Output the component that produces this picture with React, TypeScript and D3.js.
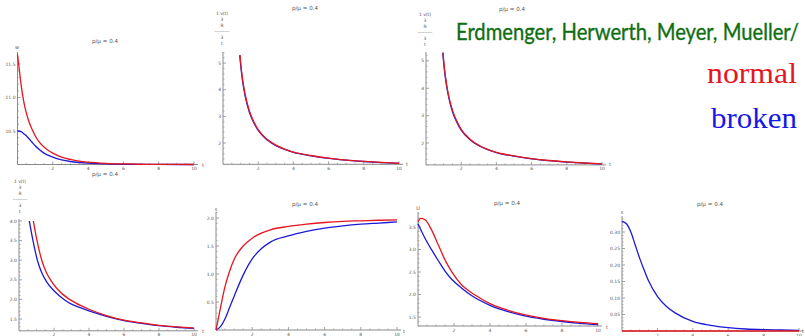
import * as d3 from 'd3'

type Pt = [number, number]

const title = 'p/μ = 0.4'
const xTicks = [2, 4, 6, 8, 10]

// w(t) - top left
const wNormal: Pt[] = [[0, 11.64], [0.1, 11.42], [0.2, 11.2], [0.3, 11.02], [0.4, 10.88], [0.5, 10.77], [0.6, 10.68], [0.75, 10.57], [0.87, 10.5], [1, 10.43], [1.25, 10.33], [1.5, 10.26], [1.75, 10.21], [2, 10.17], [2.5, 10.11], [3, 10.075], [3.5, 10.05], [4, 10.035], [5, 10.017], [6, 10.008], [7, 10.004], [8, 10.002], [10, 10]]
const wBroken: Pt[] = [[0, 10.5], [0.2, 10.49], [0.4, 10.45], [0.6, 10.4], [0.8, 10.34], [1, 10.28], [1.25, 10.22], [1.5, 10.17], [2, 10.11], [2.5, 10.07], [3, 10.045], [3.5, 10.03], [4, 10.02], [5, 10.009], [6, 10.004], [8, 10.001], [10, 10]]
const wTicks = [10.5, 11, 11.5]

// volume-type quantity - top middle / top right
const vNormal: Pt[] = [[0.97, 5.3], [1, 5.05], [1.1, 4.45], [1.25, 3.85], [1.5, 3.2], [1.75, 2.8], [2, 2.5], [2.5, 2.14], [3, 1.92], [3.5, 1.77], [4, 1.66], [5, 1.53], [6, 1.43], [7, 1.36], [8, 1.31], [9, 1.27], [10, 1.24]]
const vBroken: Pt[] = [[0.95, 5.3], [1, 4.95], [1.1, 4.38], [1.25, 3.79], [1.5, 3.15], [1.75, 2.76], [2, 2.47], [2.5, 2.12], [3, 1.9], [3.5, 1.76], [4, 1.65], [5, 1.52], [6, 1.42], [7, 1.355], [8, 1.305], [9, 1.265], [10, 1.235]]
const vTicks = [2, 3, 4, 5]

// bottom left
const aNormal: Pt[] = [[0.82, 4.0], [1.03, 3.5], [1.3, 3.0], [1.55, 2.7], [1.8, 2.5], [2.2, 2.26], [2.82, 2.02], [3.2, 1.92], [3.6, 1.83], [4, 1.75], [5, 1.59], [6, 1.47], [7, 1.4], [8, 1.34], [9, 1.3], [10, 1.27]]
const aBroken: Pt[] = [[0.59, 4.0], [0.8, 3.5], [1.05, 3.0], [1.3, 2.68], [1.58, 2.45], [2, 2.22], [2.63, 1.98], [3, 1.88], [3.5, 1.79], [4, 1.71], [5, 1.57], [6, 1.46], [7, 1.39], [8, 1.33], [9, 1.29], [10, 1.26]]
const aTicks = [1.5, 2.0, 2.5, 3.0, 3.5, 4.0]

// s(t)
const sNormal: Pt[] = [[0, 0], [0.25, 0.4], [0.5, 0.78], [0.75, 1.05], [1, 1.26], [1.5, 1.5], [2, 1.64], [2.5, 1.73], [3, 1.79], [4, 1.85], [5, 1.89], [6, 1.92], [7, 1.94], [8, 1.95], [9, 1.96], [10, 1.965]]
const sBroken: Pt[] = [[0, 0], [0.25, 0.06], [0.5, 0.2], [0.75, 0.4], [1, 0.6], [1.5, 0.98], [2, 1.27], [2.5, 1.45], [3, 1.57], [4, 1.68], [5, 1.76], [6, 1.82], [7, 1.86], [8, 1.89], [9, 1.91], [10, 1.93]]
const sTicks = [0.5, 1.0, 1.5, 2.0]

// U(t)
const uNormal: Pt[] = [[0, 3.62], [0.15, 3.69], [0.39, 3.66], [0.76, 3.43], [1.13, 3.1], [1.5, 2.77], [1.87, 2.51], [2.43, 2.21], [3.17, 1.99], [4.09, 1.78], [5, 1.65], [5.85, 1.56], [7, 1.47], [8, 1.42], [9, 1.38], [10, 1.35]]
const uBroken: Pt[] = [[0, 3.57], [0.2, 3.4], [0.39, 3.25], [0.76, 2.99], [1.13, 2.75], [1.5, 2.52], [1.87, 2.34], [2.43, 2.14], [2.89, 2.0], [4, 1.76], [5, 1.62], [5.85, 1.53], [7, 1.45], [8, 1.4], [9, 1.36], [10, 1.33]]
const uTicks = [1.5, 2.0, 2.5, 3.0, 3.5]

// epsilon(t)
const eNormal: Pt[] = [[0, 0], [2, 0], [4, 0], [6, 0], [8, 0], [10, 0]]
const eBroken: Pt[] = [[0, 0.332], [0.25, 0.325], [0.5, 0.3], [0.75, 0.26], [1, 0.22], [1.25, 0.185], [1.5, 0.152], [2, 0.105], [2.5, 0.075], [3, 0.055], [4, 0.029], [5, 0.017], [6, 0.01], [7, 0.006], [8, 0.004], [9, 0.003], [10, 0.002]]
const eTicks = [0.05, 0.1, 0.15, 0.2, 0.25, 0.3]

const stackLabel = ['1 v(t)', '3', 'R', '---------', '3', 't']

const RED = '#e4161e'
const BLUE = '#1c1ad6'
const AXIS = '#8a8a8a'
const TXT = '#555'

type PanelCfg = {
  px: [number, number]
  py: [number, number]
  yDom: [number, number]
  yTop: number
  yTicks: number[]
  minor: number
  fmt: (v: number) => string
  titleAt: [number, number]
  yLabel?: { text: string; x: number; y: number }
  stack?: { x: number; y: number }
  xLabelAt: [number, number]
  normal: Pt[]
  broken: Pt[]
}

const panels: PanelCfg[] = [
  { px: [17.5, 194], py: [164.5, 64], yDom: [10, 11.5], yTop: 52, yTicks: wTicks, minor: 0.1, fmt: d3.format('.1f'), titleAt: [105, 43], yLabel: { text: 'w', x: 17, y: 49 }, xLabelAt: [203, 167], normal: wNormal, broken: wBroken },
  { px: [223, 399], py: [164.3, 143], yDom: [1.2, 2], yTop: 52, yTicks: vTicks, minor: 0.2, fmt: d3.format('d'), titleAt: [305, 10], stack: { x: 222, y: 15 }, xLabelAt: [407, 166], normal: vNormal, broken: vBroken },
  { px: [426, 602], py: [164.9, 143], yDom: [1.2, 2], yTop: 52, yTicks: vTicks, minor: 0.2, fmt: d3.format('d'), titleAt: [512, 11], stack: { x: 425, y: 16 }, xLabelAt: [610, 166], normal: vNormal, broken: vBroken },
  { px: [19, 194], py: [330.8, 221], yDom: [1.2, 4.0], yTop: 219, yTicks: aTicks, minor: 0.1, fmt: d3.format('.1f'), titleAt: [105, 176], stack: { x: 20, y: 183 }, xLabelAt: [203, 333], normal: aNormal, broken: aBroken },
  { px: [216, 397], py: [330, 218], yDom: [0, 2.0], yTop: 212, yTicks: sTicks, minor: 0.1, fmt: d3.format('.1f'), titleAt: [305, 206], yLabel: { text: 's', x: 216, y: 211 }, xLabelAt: [404, 333], normal: sNormal, broken: sBroken },
  { px: [418, 598], py: [326, 227], yDom: [1.3, 3.5], yTop: 212, yTicks: uTicks, minor: 0.1, fmt: d3.format('.1f'), titleAt: [507, 205], yLabel: { text: 'U', x: 418, y: 210 }, xLabelAt: [607, 329], normal: uNormal, broken: uBroken },
  { px: [622, 799], py: [331, 232], yDom: [0, 0.3], yTop: 216, yTicks: eTicks, minor: 0.01, fmt: d3.format('.2f'), titleAt: [710, 206], yLabel: { text: 'ε', x: 622, y: 214 }, xLabelAt: [803, 333], normal: eNormal, broken: eBroken },
]

function Panel({ cfg }: { cfg: PanelCfg }) {
  const x = d3.scaleLinear().domain([0, 10]).range(cfg.px)
  const y = d3.scaleLinear().domain(cfg.yDom).range(cfg.py)
  const y0 = y(cfg.yDom[0])
  const x0 = x(0)
  const line = d3
    .line<Pt>()
    .x((d) => x(d[0]))
    .y((d) => y(d[1]))
    .curve(d3.curveMonotoneX)
  const yMaxVal = y.invert(cfg.yTop)
  const minorsY = d3.range(cfg.yDom[0], yMaxVal, cfg.minor).filter(
    (v) => !cfg.yTicks.some((t) => Math.abs(t - v) < cfg.minor / 10)
  )
  const minorsX = d3.range(0.5, 10.01, 0.5).filter((v) => v % 2 !== 0)
  return (
    <g>
      <text x={cfg.titleAt[0]} y={cfg.titleAt[1]} fontSize={5.6} fill={TXT} textAnchor="middle" fontFamily="DejaVu Sans">
        {title}
      </text>
      <line x1={x0} x2={x(10) + 4} y1={y0} y2={y0} stroke={AXIS} strokeWidth={1} />
      <line x1={x0} x2={x0} y1={y0} y2={cfg.yTop} stroke={AXIS} strokeWidth={1} />
      {xTicks.map((t) => (
        <g key={'xt' + t}>
          <line x1={x(t)} x2={x(t)} y1={y0} y2={y0 - 3} stroke={AXIS} strokeWidth={0.8} />
          <text x={x(t)} y={y0 + 5.5} fontSize={4.5} fill={TXT} textAnchor="middle" fontFamily="DejaVu Sans">
            {t}
          </text>
        </g>
      ))}
      {minorsX.map((t) => (
        <line key={'xm' + t} x1={x(t)} x2={x(t)} y1={y0} y2={y0 - 1.6} stroke={AXIS} strokeWidth={0.6} />
      ))}
      {cfg.yTicks.map((t) => (
        <g key={'yt' + t}>
          <line x1={x0} x2={x0 + 3} y1={y(t)} y2={y(t)} stroke={AXIS} strokeWidth={0.8} />
          <text x={x0 - 2} y={y(t) + 1.6} fontSize={4.5} fill={TXT} textAnchor="end" fontFamily="DejaVu Sans">
            {cfg.fmt(t)}
          </text>
        </g>
      ))}
      {minorsY.map((t, i) => (
        <line key={'ym' + i} x1={x0} x2={x0 + 1.6} y1={y(t)} y2={y(t)} stroke={AXIS} strokeWidth={0.6} />
      ))}
      {cfg.yLabel && (
        <text x={cfg.yLabel.x} y={cfg.yLabel.y} fontSize={5} fill={TXT} textAnchor="middle" fontFamily="DejaVu Sans">
          {cfg.yLabel.text}
        </text>
      )}
      {cfg.stack &&
        stackLabel.map((s, i) => (
          <text key={'st' + i} x={cfg.stack!.x} y={cfg.stack!.y + i * 6} fontSize={4.5} fill={TXT} textAnchor="middle" fontFamily="DejaVu Sans">
            {s}
          </text>
        ))}
      <text x={cfg.xLabelAt[0]} y={cfg.xLabelAt[1]} fontSize={5} fill={TXT} textAnchor="middle" fontFamily="DejaVu Sans">
        t
      </text>
      <path d={line(cfg.broken) || ''} fill="none" stroke={BLUE} strokeWidth={1.3} />
      <path d={line(cfg.normal) || ''} fill="none" stroke={RED} strokeWidth={1.3} />
    </g>
  )
}

export default function App() {
  return (
    <svg width={805} height={336} style={{ position: 'absolute', left: 0, top: 0, background: '#fff' }}>
      {panels.map((p, i) => (
        <Panel key={i} cfg={p} />
      ))}
      <text x={456} y={40} fontSize={23} fill="#0f6e12" stroke="#0f6e12" strokeWidth={0.35} fontFamily="Lato" textLength={343} lengthAdjust="spacingAndGlyphs">
        Erdmenger, Herwerth, Meyer, Mueller/
      </text>
      <text x={797} y={83} fontSize={30} fill={RED} fontFamily="Liberation Serif" textAnchor="end" textLength={90} lengthAdjust="spacingAndGlyphs">
        normal
      </text>
      <text x={797} y={128} fontSize={30} fill="#1717e6" fontFamily="Liberation Serif" textAnchor="end" textLength={86} lengthAdjust="spacingAndGlyphs">
        broken
      </text>
    </svg>
  )
}
